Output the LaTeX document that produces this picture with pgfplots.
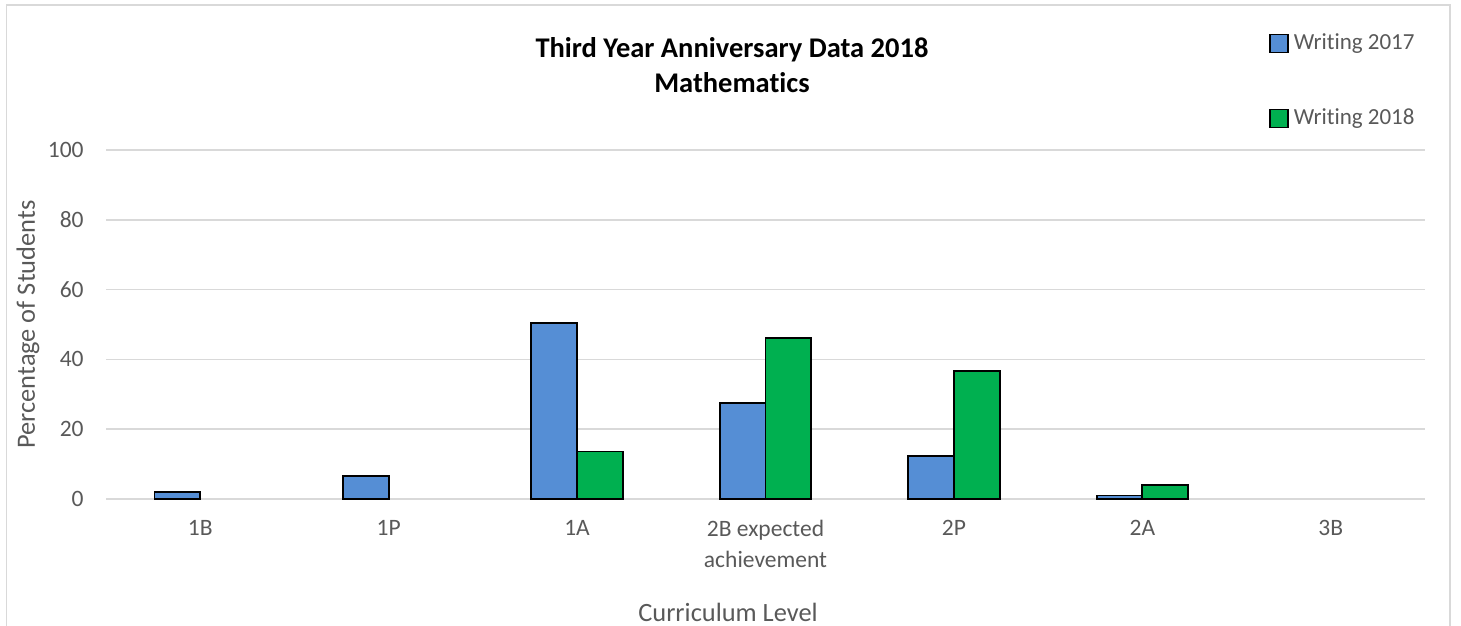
\documentclass[border=0pt]{standalone}
\usepackage{fontspec}
\setmainfont{Carlito}[Ligatures={NoCommon,NoContextual,NoRequired}]
\usepackage{pgfplots}
\pgfplotsset{compat=1.18}

\definecolor{barblue}{RGB}{85,142,213}
\definecolor{bargreen}{RGB}{0,176,80}
\definecolor{gridgray}{RGB}{217,217,217}
\definecolor{labelgray}{RGB}{89,89,89}
% keep "t" and "i" as separate glyphs
\newcommand{\ti}{t\kern0pt i}

\begin{document}
\begin{tikzpicture}
\useasboundingbox (0,0) rectangle (730.5pt,-313pt);
% chart area frame
\draw[gridgray, line width=0.75pt] (3.35pt,-313pt) -- (3.35pt,-2.5pt) -- (725pt,-2.5pt) -- (725pt,-313pt);
\begin{axis}[
  at={(53pt,-249.5pt)}, anchor=south west,
  scale only axis,
  width=659.5pt, height=174.5pt,
  ybar=0pt, bar width=22.85pt,
  xmin=-0.5, xmax=6.5,
  ymin=0, ymax=100,
  ytick={0,20,40,60,80,100},
  xtick={0,1,2,3,4,5,6},
  xticklabels={1B,1P,1A,{2B expected\\achievement},2P,2A,3B},
  major tick length=0pt,
  axis line style={draw=none},
  ymajorgrids,
  grid style={gridgray, line width=0.75pt},
  /pgf/number format/assume math mode=true,
  tick label style={font=\fontsize{11.75}{15.5}\selectfont, text=labelgray, inner sep=0pt},
  xticklabel style={align=center, anchor=north, yshift=-10.5pt},
  yticklabel style={anchor=east, xshift=-11pt},
  title={Third Year Anniversary Data 2018\\Mathema\ti cs},
  title style={at={(axis description cs:0.4746,1.2077)}, anchor=center, align=center,
    font=\bfseries\fontsize{14.25}{17.5}\selectfont, text=black, inner sep=0pt},
  xlabel={Curriculum Level},
  xlabel style={at={(axis description cs:0.4716,-0.3238)}, anchor=center,
    font=\fontsize{13.2}{16}\selectfont, text=labelgray, inner sep=0pt},
  ylabel={Percentage of Students},
  ylabel style={at={(axis description cs:-0.0591,0.5)}, anchor=center,
    font=\fontsize{13.2}{16}\selectfont, text=labelgray, inner sep=0pt},
  legend style={at={(axis description cs:0.8817,1.335)}, anchor=north west,
    draw=none, fill=none, inner sep=0pt, outer sep=0pt,
    row sep=27pt, column sep=2.5pt,
    font=\fontsize{11.5}{14}\selectfont, text=labelgray,
    nodes={inner sep=0pt, text height=8pt, text depth=2.5pt}},
  legend cell align=left,
  legend image code/.code={\draw[#1, line width=0.9pt] (0pt,-4.5pt) rectangle (9pt,4.5pt);},
]
\addplot[fill=barblue, draw=black, line width=0.9pt] coordinates {
  (0,1.9) (1,6.7) (2,50.5) (3,27.6) (4,12.4) (5,1.0)
};
\addlegendentry{Wri\ti ng 2017}
\addplot[fill=bargreen, draw=black, line width=0.9pt] coordinates {
  (2,13.6) (3,46.2) (4,36.6) (5,3.9)
};
\addlegendentry{Wri\ti ng 2018}
\end{axis}
\end{tikzpicture}
\end{document}
